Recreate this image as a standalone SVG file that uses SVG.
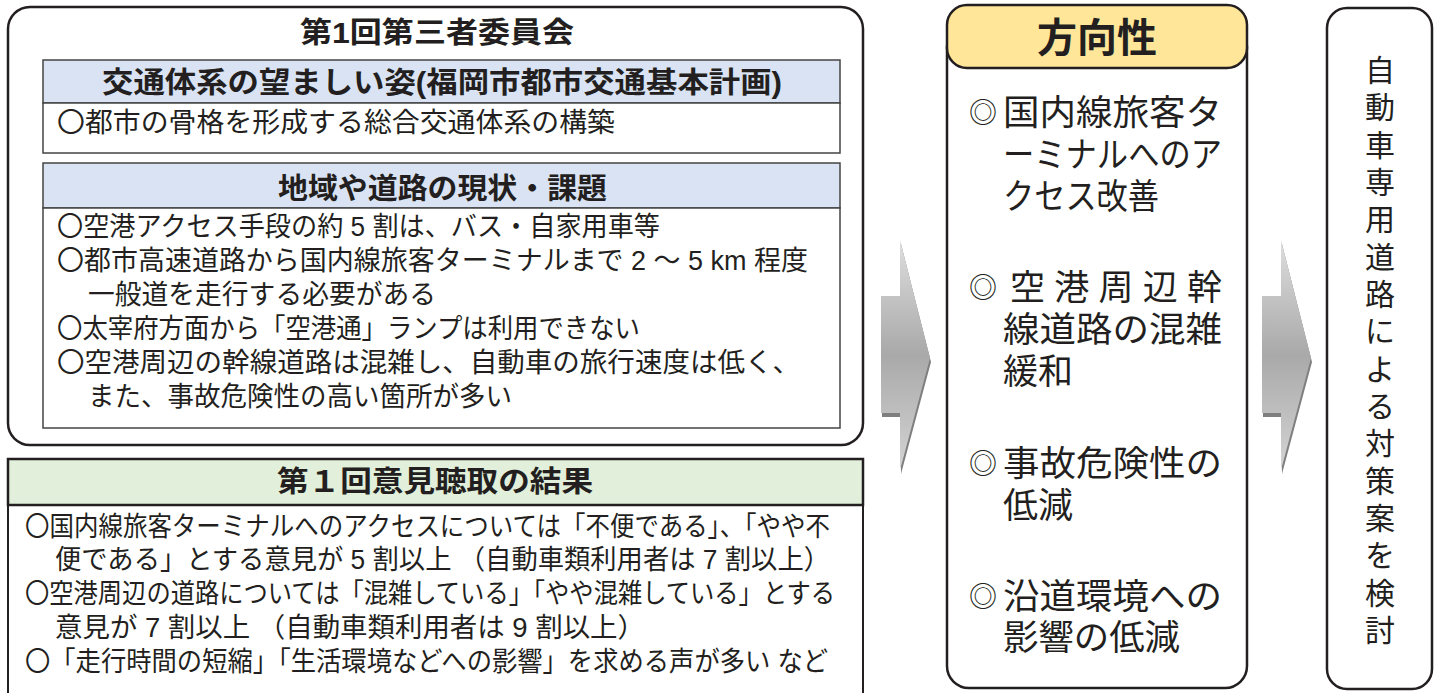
<svg xmlns="http://www.w3.org/2000/svg" width="1440" height="693" viewBox="0 0 1440 693">
<style>
text{font-family:"Liberation Sans","Noto Sans CJK JP",sans-serif;fill:#231f20;}
.b{font-weight:700;}
.t27{font-size:27px;}
.t29{font-size:29px;}
.t35{font-size:35px;}
.dm{font-size:28px;}
.outer{fill:#fff;stroke:#231f20;stroke-width:2.5;}
.inner{stroke:#444;stroke-width:1.5;}
</style>
<defs>
<linearGradient id="ag" x1="0" y1="0" x2="0" y2="1">
<stop offset="0" stop-color="#dedede"/>
<stop offset="0.5" stop-color="#a9a9a9"/>
<stop offset="1" stop-color="#d4d4d4"/>
</linearGradient>
<polygon id="arr" points="881,296 900,296 900,240 930,358 900,470 900,413 881,413"/>
</defs>
<rect width="1440" height="693" fill="#fff"/>

<g id="committee">
<rect class="outer" x="8" y="7" width="855" height="438" rx="22"/>
<text class="b t29" x="300" y="43" textLength="274" lengthAdjust="spacingAndGlyphs">第1回第三者委員会</text>
<rect class="inner" x="43" y="60" width="797" height="43" fill="#dae3f3"/>
<text class="b t29" x="102" y="93" textLength="680" lengthAdjust="spacingAndGlyphs">交通体系の望ましい姿(福岡市都市交通基本計画)</text>
<rect class="inner" x="43" y="103" width="797" height="50" fill="#fff"/>
<text class="t27" x="57" y="132" textLength="558" lengthAdjust="spacingAndGlyphs">〇都市の骨格を形成する総合交通体系の構築</text>
<rect class="inner" x="43" y="163" width="797" height="45" fill="#dae3f3"/>
<text class="b t29" x="278" y="199" textLength="329" lengthAdjust="spacingAndGlyphs">地域や道路の現状・課題</text>
<rect class="inner" x="43" y="208" width="797" height="220" fill="#fff"/>
<text class="t27"><tspan x="57" y="236" textLength="603" lengthAdjust="spacingAndGlyphs">〇空港アクセス手段の約 5 割は、バス・自家用車等</tspan><tspan x="57" y="270" textLength="751" lengthAdjust="spacingAndGlyphs">〇都市高速道路から国内線旅客ターミナルまで 2 ～ 5 km 程度</tspan><tspan x="88" y="304" textLength="348" lengthAdjust="spacingAndGlyphs">一般道を走行する必要がある</tspan><tspan x="57" y="338" textLength="583" lengthAdjust="spacingAndGlyphs">〇太宰府方面から「空港通」ランプは利用できない</tspan><tspan x="57" y="372" textLength="743" lengthAdjust="spacingAndGlyphs">〇空港周辺の幹線道路は混雑し、自動車の旅行速度は低く、</tspan><tspan x="88" y="406" textLength="424" lengthAdjust="spacingAndGlyphs">また、事故危険性の高い箇所が多い</tspan></text>
</g>

<g id="hearing">
<rect x="8" y="505" width="855" height="200" fill="#fff" stroke="#231f20" stroke-width="2"/>
<rect x="8" y="459" width="855" height="46" fill="#e2efda" stroke="#231f20" stroke-width="2.5"/>
<text class="b t29" x="277" y="492" textLength="316" lengthAdjust="spacingAndGlyphs">第１回意見聴取の結果</text>
<text class="t27"><tspan x="25" y="536" textLength="805" lengthAdjust="spacingAndGlyphs">〇国内線旅客ターミナルへのアクセスについては「不便である」、「やや不</tspan><tspan x="55" y="569" textLength="775" lengthAdjust="spacingAndGlyphs">便である」とする意見が 5 割以上 （自動車類利用者は 7 割以上）</tspan><tspan x="25" y="603" textLength="810" lengthAdjust="spacingAndGlyphs">〇空港周辺の道路については「混雑している」「やや混雑している」とする</tspan><tspan x="55" y="637" textLength="590" lengthAdjust="spacingAndGlyphs">意見が 7 割以上 （自動車類利用者は 9 割以上）</tspan><tspan x="25" y="671" textLength="803" lengthAdjust="spacingAndGlyphs">〇「走行時間の短縮」「生活環境などへの影響」を求める声が多い  など</tspan></text>
</g>

<g id="connectors">
<use href="#arr" transform="translate(1,4)" fill="#7f7f7f"/>
<use href="#arr" fill="url(#ag)"/>
<use href="#arr" transform="translate(382,4)" fill="#7f7f7f"/>
<use href="#arr" transform="translate(381,0)" fill="url(#ag)"/>
</g>

<g id="direction">
<rect class="outer" x="947" y="25" width="300" height="663" rx="22"/>
<rect x="947" y="5" width="300" height="63" rx="20" fill="#ffe699" stroke="#231f20" stroke-width="2.5"/>
<text class="b" x="1097" y="52" font-size="40" text-anchor="middle">方向性</text>
<text class="t35"><tspan class="dm" x="969" y="123">◎</tspan><tspan x="1003" y="125" textLength="219" lengthAdjust="spacingAndGlyphs">国内線旅客タ</tspan><tspan x="1003" y="167" textLength="219" lengthAdjust="spacingAndGlyphs">ーミナルへのア</tspan><tspan x="1003" y="209" textLength="156" lengthAdjust="spacingAndGlyphs">クセス改善</tspan></text>
<text class="t35"><tspan class="dm" x="969" y="298">◎</tspan><tspan x="1010" y="300" textLength="212" lengthAdjust="spacing">空港周辺幹</tspan><tspan x="1003" y="342" textLength="219" lengthAdjust="spacingAndGlyphs">線道路の混雑</tspan><tspan x="1003" y="384">緩和</tspan></text>
<text class="t35"><tspan class="dm" x="969" y="474">◎</tspan><tspan x="1003" y="476" textLength="219" lengthAdjust="spacingAndGlyphs">事故危険性の</tspan><tspan x="1003" y="518">低減</tspan></text>
<text class="t35"><tspan class="dm" x="969" y="607">◎</tspan><tspan x="1003" y="609" textLength="219" lengthAdjust="spacingAndGlyphs">沿道環境への</tspan><tspan x="1003" y="650" textLength="177" lengthAdjust="spacingAndGlyphs">影響の低減</tspan></text>
</g>

<g id="measure">
<rect class="outer" x="1327" y="8" width="105" height="681" rx="20"/>
<text font-size="30" text-anchor="middle" x="1380 1380 1380 1380 1380 1380 1380 1380 1380 1380 1380 1380 1380 1380 1380 1380" y="81 118.3 155.7 193 230.3 267.7 305 342.3 379.7 417 454.3 491.7 529 566.3 603.7 641">自動車専用道路による対策案を検討</text>
</g>
</svg>
